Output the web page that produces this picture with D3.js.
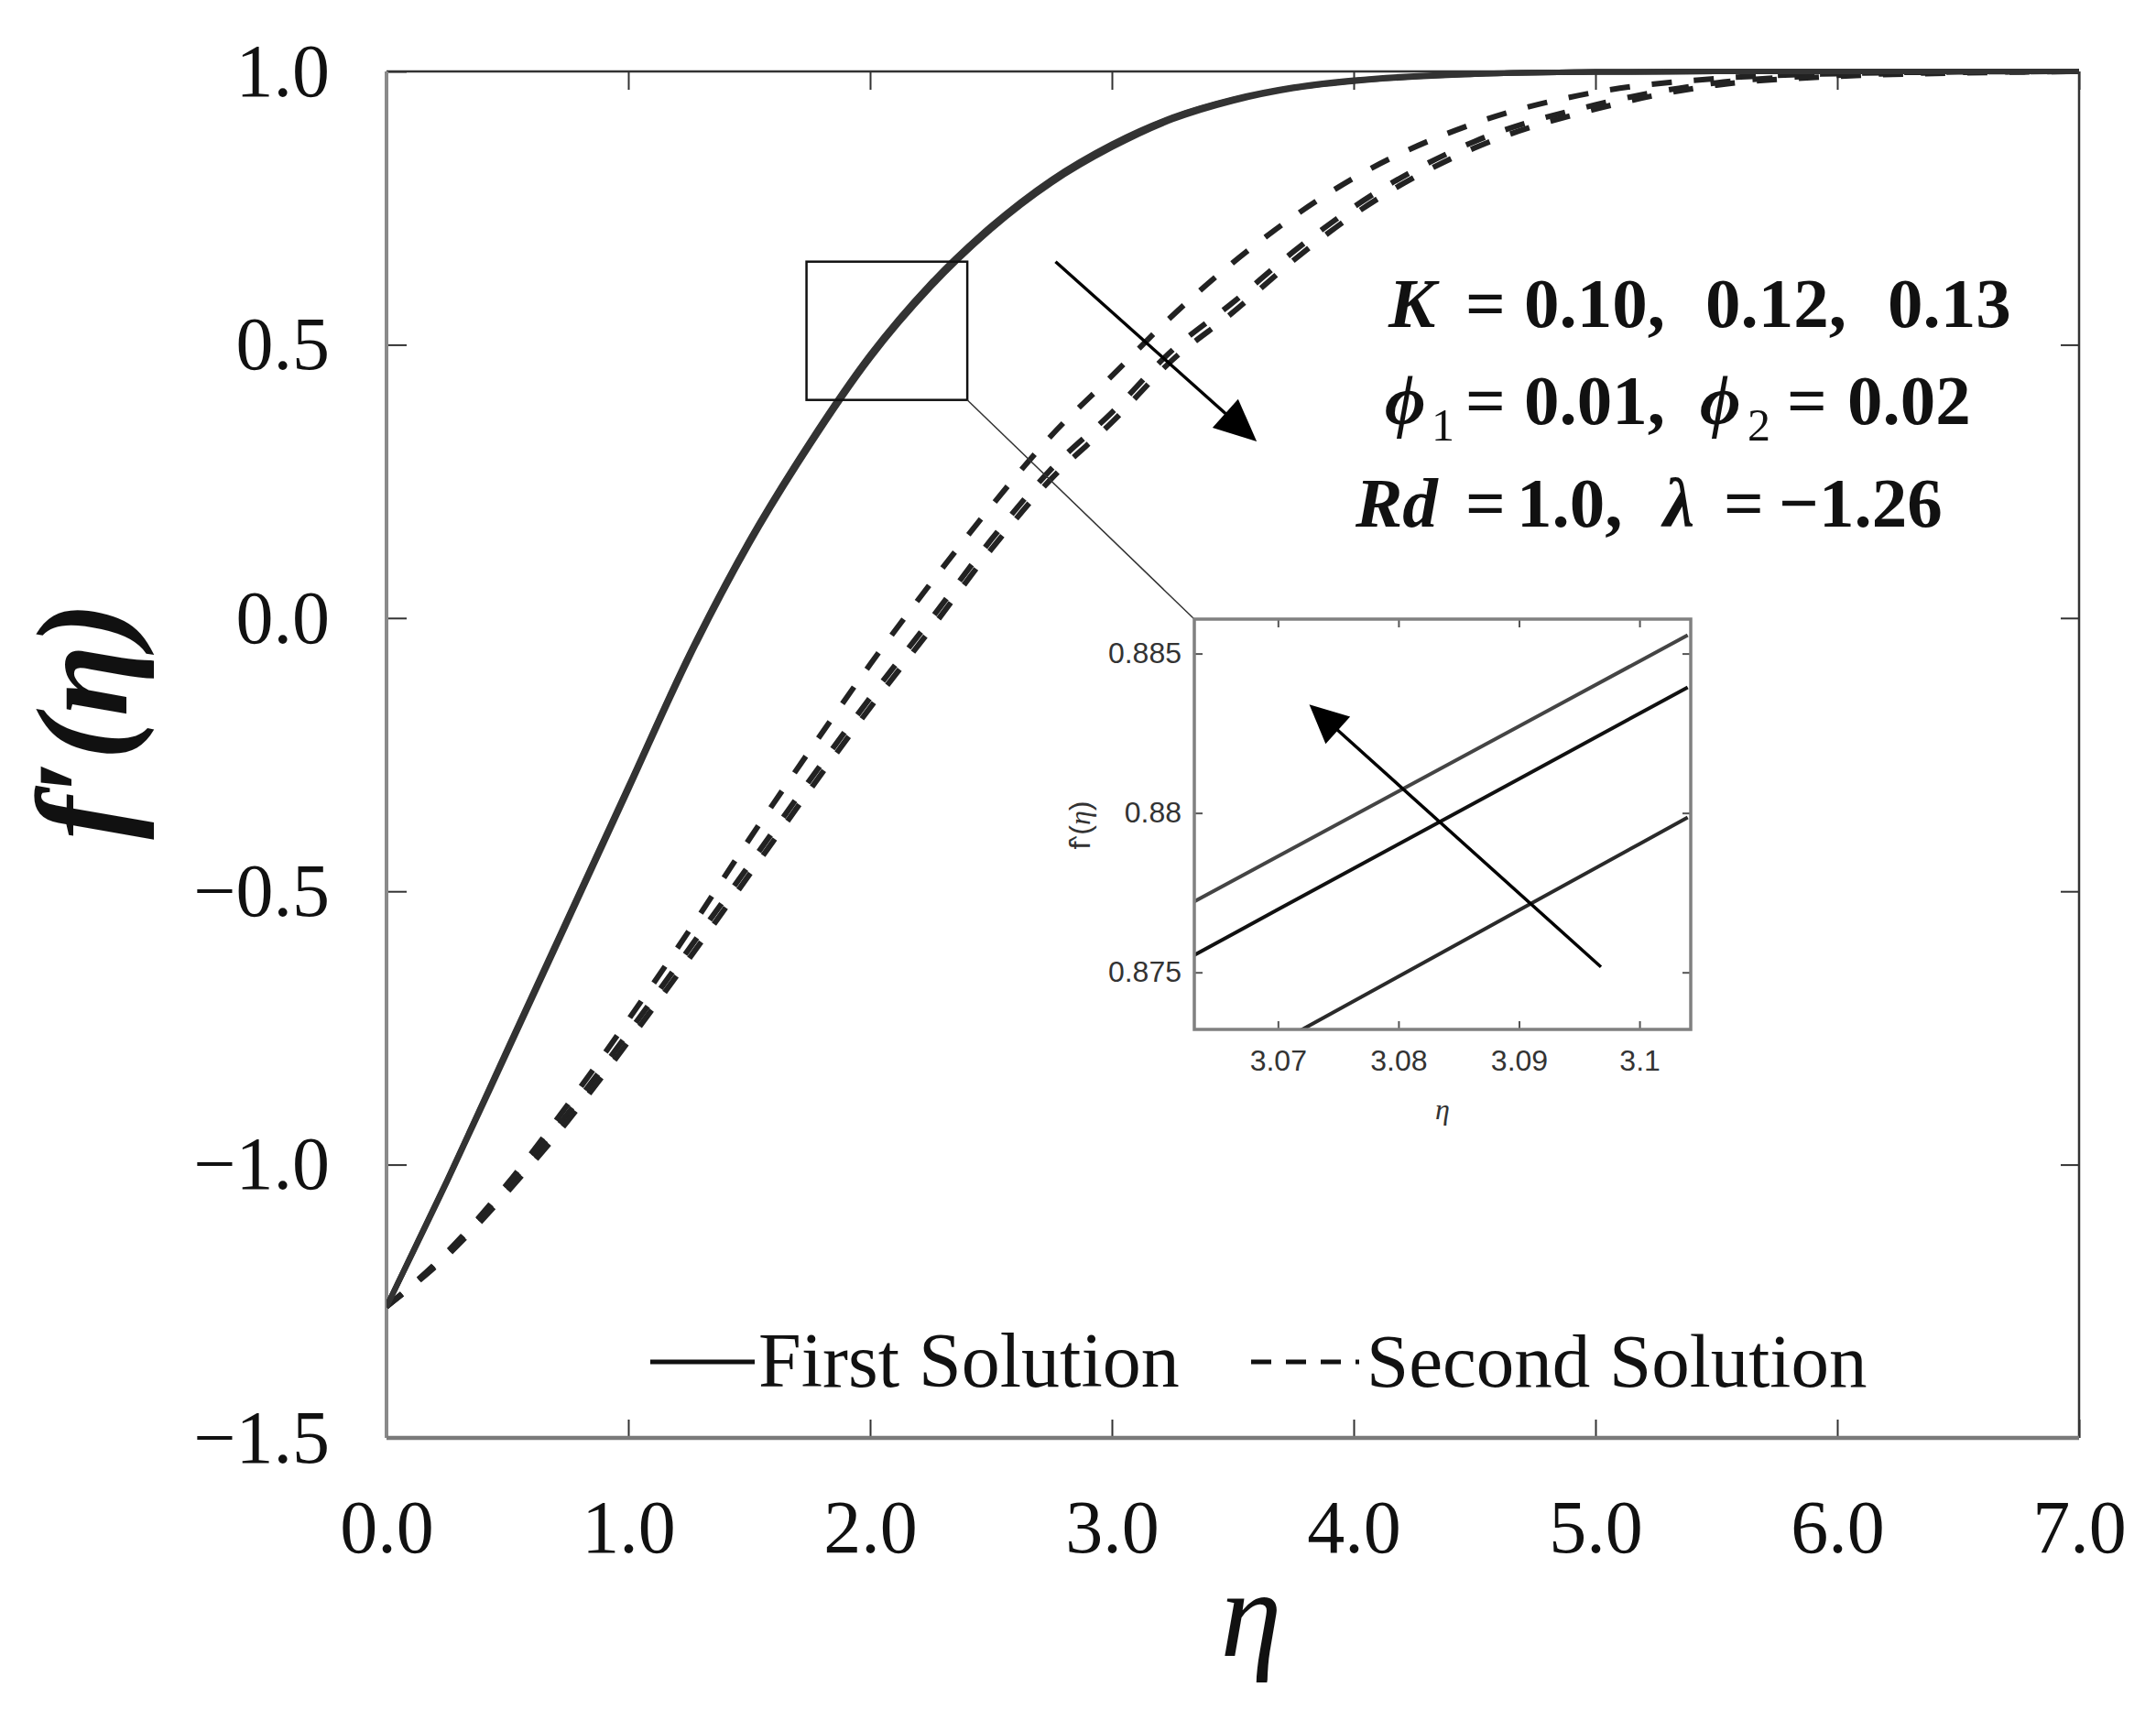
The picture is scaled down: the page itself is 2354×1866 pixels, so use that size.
<!DOCTYPE html>
<html>
<head>
<meta charset="utf-8">
<script src="https://cdn.jsdelivr.net/npm/d3@7"></script>
<style>
  body { margin: 0; background: #fff; }
</style>
</head>
<body>
<div id="chart-container"></div>
<script>
// ---- data ----
// main plot: f'(eta) for K = 0.10, 0.12, 0.13
var eta = [0, 0.25, 0.5, 0.75, 1, 1.25, 1.5, 1.75, 2, 2.25, 2.5, 2.75, 3, 3.25, 3.5, 3.75, 4, 4.5, 5, 5.5, 6, 6.5, 7];

var firstK010 = [-1.26, -1.032, -0.794, -0.555, -0.315, -0.075, 0.135, 0.315, 0.475, 0.605, 0.711, 0.796, 0.861, 0.912, 0.946, 0.969, 0.982, 0.995, 0.999, 1.0, 1.0, 1.0, 1.0];
var firstK012 = [-1.26, -1.030, -0.790, -0.550, -0.310, -0.070, 0.140, 0.320, 0.480, 0.610, 0.715, 0.800, 0.865, 0.915, 0.948, 0.970, 0.983, 0.995, 0.999, 1.0, 1.0, 1.0, 1.0];
var firstK013 = [-1.26, -1.029, -0.788, -0.548, -0.308, -0.068, 0.142, 0.322, 0.482, 0.612, 0.717, 0.802, 0.867, 0.916, 0.949, 0.971, 0.984, 0.996, 0.999, 1.0, 1.0, 1.0, 1.0];

var secondK010 = [-1.26, -1.160, -1.035, -0.890, -0.735, -0.573, -0.405, -0.243, -0.085, 0.063, 0.204, 0.334, 0.443, 0.553, 0.650, 0.734, 0.805, 0.905, 0.962, 0.987, 0.996, 0.999, 1.0];
var secondK012 = [-1.26, -1.163, -1.040, -0.906, -0.759, -0.606, -0.452, -0.297, -0.146, -0.003, 0.143, 0.273, 0.376, 0.490, 0.577, 0.670, 0.752, 0.872, 0.939, 0.979, 0.993, 0.998, 1.0];
var secondK013 = [-1.26, -1.167, -1.050, -0.920, -0.775, -0.624, -0.470, -0.315, -0.164, -0.021, 0.125, 0.255, 0.358, 0.472, 0.559, 0.654, 0.738, 0.860, 0.931, 0.975, 0.991, 0.997, 1.0];

var xTicks = [0, 1, 2, 3, 4, 5, 6, 7];
var yTicks = [-1.5, -1, -0.5, 0, 0.5, 1];

// inset: zoom on the first solution
var insetEta = [3.063, 3.07, 3.08, 3.09, 3.1, 3.104];
var insetK013 = [0.87721, 0.87864, 0.88068, 0.88272, 0.88476, 0.88558];
var insetK012 = [0.87553, 0.87697, 0.87902, 0.88107, 0.88312, 0.88394];
var insetK010 = [0.87134, 0.87279, 0.87487, 0.87695, 0.87903, 0.87986];
var insetXTicks = [3.07, 3.08, 3.09, 3.1];
var insetYTicks = [0.875, 0.88, 0.885];

// annotations (data units)
var mainArrow = [[2.767, 0.652], [3.599, 0.323]];
var insetArrow = [[3.0968, 0.87517], [3.0726, 0.8834]];
var zoomBox = {x0: 1.737, x1: 2.402, y0: 0.399, y1: 0.652};

// ---- layout ----
var width = 2354, height = 1866;
var plot = {left: 422, right: 2270, top: 78, bottom: 1570};
var inset = {left: 1304, right: 1846, top: 676, bottom: 1124};

var svg = d3.select("#chart-container")
  .append("svg")
    .attr("width", width)
    .attr("height", height)
    .style("background", "#fff");

var serif = "'Liberation Serif', 'Times New Roman', serif";
var sans = "'Liberation Sans', Arial, sans-serif";

var xScale = d3.scaleLinear().domain([0, 7]).range([plot.left, plot.right]);
var yScale = d3.scaleLinear().domain([-1.5, 1]).range([plot.bottom, plot.top]);

var fmt = d3.format(".1f");

// bottom axis
var gx = svg.append("g")
  .attr("transform", "translate(0," + plot.bottom + ")")
  .call(d3.axisBottom(xScale).tickValues(xTicks).tickFormat(fmt).tickSize(-20).tickPadding(67));
// left axis
var gy = svg.append("g")
  .attr("transform", "translate(" + plot.left + ",0)")
  .call(d3.axisLeft(yScale).tickValues(yTicks).tickFormat(fmt).tickSize(-22).tickPadding(62));
// top and right: ticks only
var gt = svg.append("g")
  .attr("transform", "translate(0," + plot.top + ")")
  .call(d3.axisTop(xScale).tickValues(xTicks).tickFormat("").tickSize(-20));
var gr = svg.append("g")
  .attr("transform", "translate(" + plot.right + ",0)")
  .call(d3.axisRight(yScale).tickValues(yTicks).tickFormat("").tickSize(-20));

[gx, gy, gt, gr].forEach(function(g) {
  g.select(".domain").remove();
  g.selectAll(".tick line").attr("stroke", "#333").attr("stroke-width", 2);
  g.selectAll(".tick text")
    .attr("fill", "#111")
    .style("font-family", serif)
    .style("font-size", "82px");
});

// frame
svg.append("line").attr("x1", plot.left).attr("x2", plot.right).attr("y1", plot.top).attr("y2", plot.top)
  .attr("stroke", "#333").attr("stroke-width", 2.5);
svg.append("line").attr("x1", plot.right).attr("x2", plot.right).attr("y1", plot.top).attr("y2", plot.bottom)
  .attr("stroke", "#333").attr("stroke-width", 2.5);
svg.append("line").attr("x1", plot.left).attr("x2", plot.left).attr("y1", plot.top).attr("y2", plot.bottom)
  .attr("stroke", "#8a8a8a").attr("stroke-width", 4);
svg.append("line").attr("x1", plot.left).attr("x2", plot.right).attr("y1", plot.bottom).attr("y2", plot.bottom)
  .attr("stroke", "#7a7a7a").attr("stroke-width", 4.5);

// curves
svg.append("clipPath").attr("id", "clipMain")
  .append("rect").attr("x", plot.left).attr("y", plot.top - 4)
  .attr("width", plot.right - plot.left).attr("height", plot.bottom - plot.top + 4);

var line = d3.line()
  .x(function(d) { return xScale(d[0]); })
  .y(function(d) { return yScale(d[1]); })
  .curve(d3.curveMonotoneX);

var curves = svg.append("g").attr("clip-path", "url(#clipMain)");

[secondK010, secondK012, secondK013].forEach(function(vals) {
  curves.append("path")
    .datum(d3.zip(eta, vals))
    .attr("d", line)
    .attr("fill", "none")
    .attr("stroke", "#222")
    .attr("stroke-width", 6)
    .attr("stroke-dasharray", "22,24");
});

[firstK010, firstK012, firstK013].forEach(function(vals) {
  curves.append("path")
    .datum(d3.zip(eta, vals))
    .attr("d", line)
    .attr("fill", "none")
    .attr("stroke", "#333")
    .attr("stroke-width", 6);
});

// arrow helper (pixel coords)
function arrow(g, p0, p1, headLen, headW, sw) {
  var dx = p1[0] - p0[0], dy = p1[1] - p0[1];
  var L = Math.sqrt(dx * dx + dy * dy);
  var ux = dx / L, uy = dy / L;
  var bx = p1[0] - ux * headLen, by = p1[1] - uy * headLen;
  g.append("line")
    .attr("x1", p0[0]).attr("y1", p0[1])
    .attr("x2", bx + ux * 4).attr("y2", by + uy * 4)
    .attr("stroke", "#000").attr("stroke-width", sw);
  g.append("path")
    .attr("d", "M" + p1[0] + "," + p1[1] +
      "L" + (bx - uy * headW / 2) + "," + (by + ux * headW / 2) +
      "L" + (bx + uy * headW / 2) + "," + (by - ux * headW / 2) + "Z")
    .attr("fill", "#000");
}

arrow(svg,
  [xScale(mainArrow[0][0]), yScale(mainArrow[0][1])],
  [xScale(mainArrow[1][0]), yScale(mainArrow[1][1])], 46, 42, 3.5);

// zoom box + connector
svg.append("rect")
  .attr("x", xScale(zoomBox.x0)).attr("y", yScale(zoomBox.y1))
  .attr("width", xScale(zoomBox.x1) - xScale(zoomBox.x0))
  .attr("height", yScale(zoomBox.y0) - yScale(zoomBox.y1))
  .attr("fill", "none").attr("stroke", "#111").attr("stroke-width", 2.5);
svg.append("line")
  .attr("x1", xScale(zoomBox.x1)).attr("y1", yScale(zoomBox.y0))
  .attr("x2", inset.left).attr("y2", inset.top)
  .attr("stroke", "#333").attr("stroke-width", 1.5);

// annotation text
function mathLine(yb, parts) {
  var t = svg.append("text")
    .attr("y", yb)
    .style("font-family", serif)
    .style("font-size", "77px")
    .style("font-weight", "bold")
    .attr("fill", "#111");
  parts.forEach(function(p) {
    var s = t.append("tspan").attr("x", p.x).attr("y", yb + (p.sub ? 18 : 0)).text(p.t);
    if (p.i) s.style("font-style", "italic");
    if (p.sub) s.style("font-size", "50px").style("font-weight", "normal");
  });
}
mathLine(357, [
  {t: "K", x: 1516, i: true}, {t: "=", x: 1600}, {t: "0.10,", x: 1664}, {t: "0.12,", x: 1862}, {t: "0.13", x: 2061}
]);
mathLine(463, [
  {t: "\u03D5", x: 1512, i: true}, {t: "1", x: 1563, sub: true}, {t: "=", x: 1600}, {t: "0.01,", x: 1664},
  {t: "\u03D5", x: 1856, i: true}, {t: "2", x: 1908, sub: true}, {t: "=", x: 1951}, {t: "0.02", x: 2017}
]);
mathLine(575, [
  {t: "Rd", x: 1480, i: true}, {t: "=", x: 1600}, {t: "1.0,", x: 1656},
  {t: "\u03BB", x: 1816, i: true}, {t: "=", x: 1882}, {t: "\u22121.26", x: 1942}
]);

// axis titles
svg.append("text")
  .attr("x", 1366).attr("y", 1808)
  .attr("text-anchor", "middle")
  .style("font-family", serif).style("font-style", "italic").style("font-size", "135px")
  .attr("fill", "#111")
  .text("\u03B7");
svg.append("text")
  .attr("transform", "translate(138,787) rotate(-90)")
  .attr("text-anchor", "middle")
  .style("font-family", serif).style("font-style", "italic").style("font-weight", "bold").style("font-size", "142px")
  .attr("fill", "#111")
  .text("f\u2032(\u03B7)");

// legend
var legY = 1487;
svg.append("line").attr("x1", 710).attr("x2", 824).attr("y1", legY).attr("y2", legY)
  .attr("stroke", "#111").attr("stroke-width", 5);
svg.append("text").attr("x", 828).attr("y", 1514)
  .style("font-family", serif).style("font-size", "84px").attr("fill", "#111")
  .text("First Solution");
svg.append("line").attr("x1", 1366).attr("x2", 1488).attr("y1", legY).attr("y2", legY)
  .attr("stroke", "#111").attr("stroke-width", 5).attr("stroke-dasharray", "22,16,22,16,22,16,4,20");
svg.append("text").attr("x", 1492).attr("y", 1514)
  .style("font-family", serif).style("font-size", "83px").attr("fill", "#111")
  .text("Second Solution");

// ---- inset ----
var ix = d3.scaleLinear().domain([3.06306, 3.10425]).range([inset.left, inset.right]);
var iy = d3.scaleLinear().domain([0.87321, 0.88608]).range([inset.bottom, inset.top]);

var ig = svg.append("g");
ig.append("rect")
  .attr("x", inset.left).attr("y", inset.top)
  .attr("width", inset.right - inset.left).attr("height", inset.bottom - inset.top)
  .attr("fill", "#fff");

var ibx = ig.append("g").attr("transform", "translate(0," + inset.bottom + ")")
  .call(d3.axisBottom(ix).tickValues(insetXTicks).tickFormat(d3.format("")).tickSize(-9).tickPadding(22));
var ily = ig.append("g").attr("transform", "translate(" + inset.left + ",0)")
  .call(d3.axisLeft(iy).tickValues(insetYTicks).tickFormat(d3.format("")).tickSize(-9).tickPadding(14));
var itx = ig.append("g").attr("transform", "translate(0," + inset.top + ")")
  .call(d3.axisTop(ix).tickValues(insetXTicks).tickFormat("").tickSize(-9));
var iry = ig.append("g").attr("transform", "translate(" + inset.right + ",0)")
  .call(d3.axisRight(iy).tickValues(insetYTicks).tickFormat("").tickSize(-9));
[ibx, ily, itx, iry].forEach(function(g) {
  g.select(".domain").remove();
  g.selectAll(".tick line").attr("stroke", "#555").attr("stroke-width", 2);
  g.selectAll(".tick text")
    .attr("fill", "#333")
    .style("font-family", sans)
    .style("font-size", "32px");
});

ig.append("clipPath").attr("id", "clipInset")
  .append("rect").attr("x", inset.left).attr("y", inset.top)
  .attr("width", inset.right - inset.left).attr("height", inset.bottom - inset.top);

var iline = d3.line()
  .x(function(d) { return ix(d[0]); })
  .y(function(d) { return iy(d[1]); });

var insetColors = ["#444", "#111", "#2a2a2a"];
[insetK013, insetK012, insetK010].forEach(function(vals, i) {
  ig.append("path")
    .attr("clip-path", "url(#clipInset)")
    .datum(d3.zip(insetEta, vals))
    .attr("d", iline)
    .attr("fill", "none")
    .attr("stroke", insetColors[i])
    .attr("stroke-width", 4);
});

arrow(ig,
  [ix(insetArrow[0][0]), iy(insetArrow[0][1])],
  [ix(insetArrow[1][0]), iy(insetArrow[1][1])], 42, 40, 3.5);

ig.append("rect")
  .attr("x", inset.left).attr("y", inset.top)
  .attr("width", inset.right - inset.left).attr("height", inset.bottom - inset.top)
  .attr("fill", "none").attr("stroke", "#808080").attr("stroke-width", 3.5);

var iyl = ig.append("text")
  .attr("transform", "translate(1190,901) rotate(-90)")
  .attr("text-anchor", "middle")
  .style("font-family", sans).style("font-size", "32px").attr("fill", "#333");
iyl.append("tspan").text("f\u2035(");
iyl.append("tspan").style("font-family", serif).style("font-style", "italic").text("\u03B7");
iyl.append("tspan").text(")");

ig.append("text")
  .attr("x", 1575).attr("y", 1222)
  .attr("text-anchor", "middle")
  .style("font-family", serif).style("font-style", "italic").style("font-size", "32px").attr("fill", "#333")
  .text("\u03B7");
</script>
</body>
</html>
